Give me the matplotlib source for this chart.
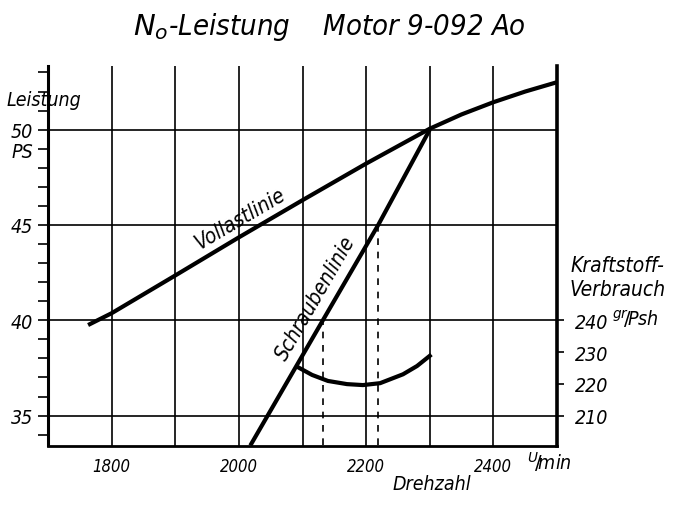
import matplotlib
matplotlib.use('Agg')
import matplotlib.pyplot as plt

# ---- data ----
rpm_vollast = [1763, 1800, 1900, 2000, 2100, 2200, 2300, 2350, 2400, 2450, 2500]
ps_vollast = [39.75, 40.37, 42.35, 44.35, 46.30, 48.22, 50.05, 50.80, 51.44, 52.00, 52.49]

rpm_schraube = [2018, 2132, 2219, 2300]
ps_schraube = [33.43, 40.0, 45.0, 50.0]

rpm_fuel = [2094, 2115, 2140, 2170, 2195, 2222, 2258, 2280, 2300]
fuel = [225.1, 222.8, 220.9, 219.9, 219.6, 220.2, 223.0, 225.6, 228.8]

rpm_dashed = [2132, 2219]
ps_dashed_top = [40.0, 45.0]

x_grid = [1800, 1900, 2000, 2100, 2200, 2300, 2400]
x_labels = ['1800', '', '2000', '', '2200', '', '2400']
y_major = [35, 40, 45, 50]
y_minor = list(range(34, 54))
fuel_ticks = [210, 220, 230, 240]

# ---- figure ----
W, H = 680, 506
fig = plt.figure(figsize=(W / 100, H / 100), dpi=100)
FONT = dict(family='DejaVu Sans', style='italic', stretch='condensed')
plt.rcParams['mathtext.fontset'] = 'dejavusans'

ax = fig.add_axes([48 / W, 1 - 446.5 / H, (557 - 48) / W, (446.5 - 67) / H])
xlo, xhi = 1700, 2500
ylo, yhi = 33.43, 53.34
ax.set_xlim(xlo, xhi)
ax.set_ylim(ylo, yhi)

for v in x_grid:
    ax.axvline(v, color='black', lw=1.2, zorder=1)
for v in y_major:
    ax.axhline(v, color='black', lw=1.2, zorder=1)

ax.set_xticks(x_grid)
ax.set_xticklabels(x_labels, fontsize=12, **FONT)
ax.tick_params(axis='x', length=0, pad=8)
ax.set_yticks(y_major)
ax.set_yticklabels([str(v) for v in y_major], fontsize=14, **FONT)
ax.set_yticks(y_minor, minor=True)
ax.tick_params(axis='y', which='both', direction='out', length=7, width=1.2, pad=4)

ax.spines['top'].set_visible(False)
ax.spines['right'].set_visible(False)
ax.spines['left'].set_linewidth(2.2)
ax.spines['bottom'].set_linewidth(2.0)

# curves
ax.plot(rpm_vollast, ps_vollast, color='black', lw=3.0, solid_capstyle='butt',
        solid_joinstyle='round', zorder=3)
ax.plot(rpm_schraube, ps_schraube, color='black', lw=3.0, solid_capstyle='butt', zorder=3)
for xr, yt in zip(rpm_dashed, ps_dashed_top):
    ax.plot([xr, xr], [ylo, yt], color='black', lw=1.2, ls=(0, (4, 4)), zorder=2)

ax2 = ax.twinx()
ax2.set_ylim(240 + 6 * (ylo - 40), 240 + 6 * (yhi - 40))
ax2.plot(rpm_fuel, fuel, color='black', lw=3.0, solid_joinstyle='round', zorder=3)
ax2.set_yticks(fuel_ticks)
ax2.set_yticklabels([str(v) for v in fuel_ticks], fontsize=14, **FONT)
ax2.tick_params(axis='y', direction='out', length=5, width=1.2, pad=8)
for s in ['top', 'left', 'bottom']:
    ax2.spines[s].set_visible(False)
ax2.spines['right'].set_linewidth(2.6)

# curve labels
ax.text(2002, 45.35, 'Vollastlinie', rotation=30.5, rotation_mode='anchor',
        ha='center', va='center', fontsize=15, **FONT)
ax.text(2121, 41.2, 'Schraubenlinie', rotation=60, rotation_mode='anchor',
        ha='center', va='center', fontsize=15, **FONT)

def ftext(x, y, s, **kw):
    fig.text(x / W, 1 - y / H, s, **kw)

ftext(329, 27, r'$N_o$-Leistung    Motor 9-092 Ao', ha='center', va='center', fontsize=21, **FONT)
ftext(7, 100, 'Leistung', ha='left', va='center', fontsize=14, **FONT)
ftext(12, 152, 'PS', ha='left', va='center', fontsize=14, **FONT)
ftext(570, 266, 'Kraftstoff-', ha='left', va='center', fontsize=15, **FONT)
ftext(570, 290, 'Verbrauch', ha='left', va='center', fontsize=15, **FONT)
ftext(612, 320, r'$^{gr}\!/\!$Psh', ha='left', va='center', fontsize=14, **FONT)
ftext(432, 485, 'Drehzahl', ha='center', va='center', fontsize=14, **FONT)
ftext(527, 462, r'$^{U}\!/\!$min', ha='left', va='center', fontsize=14, **FONT)

fig.savefig('out.png', dpi=100, facecolor='white')
